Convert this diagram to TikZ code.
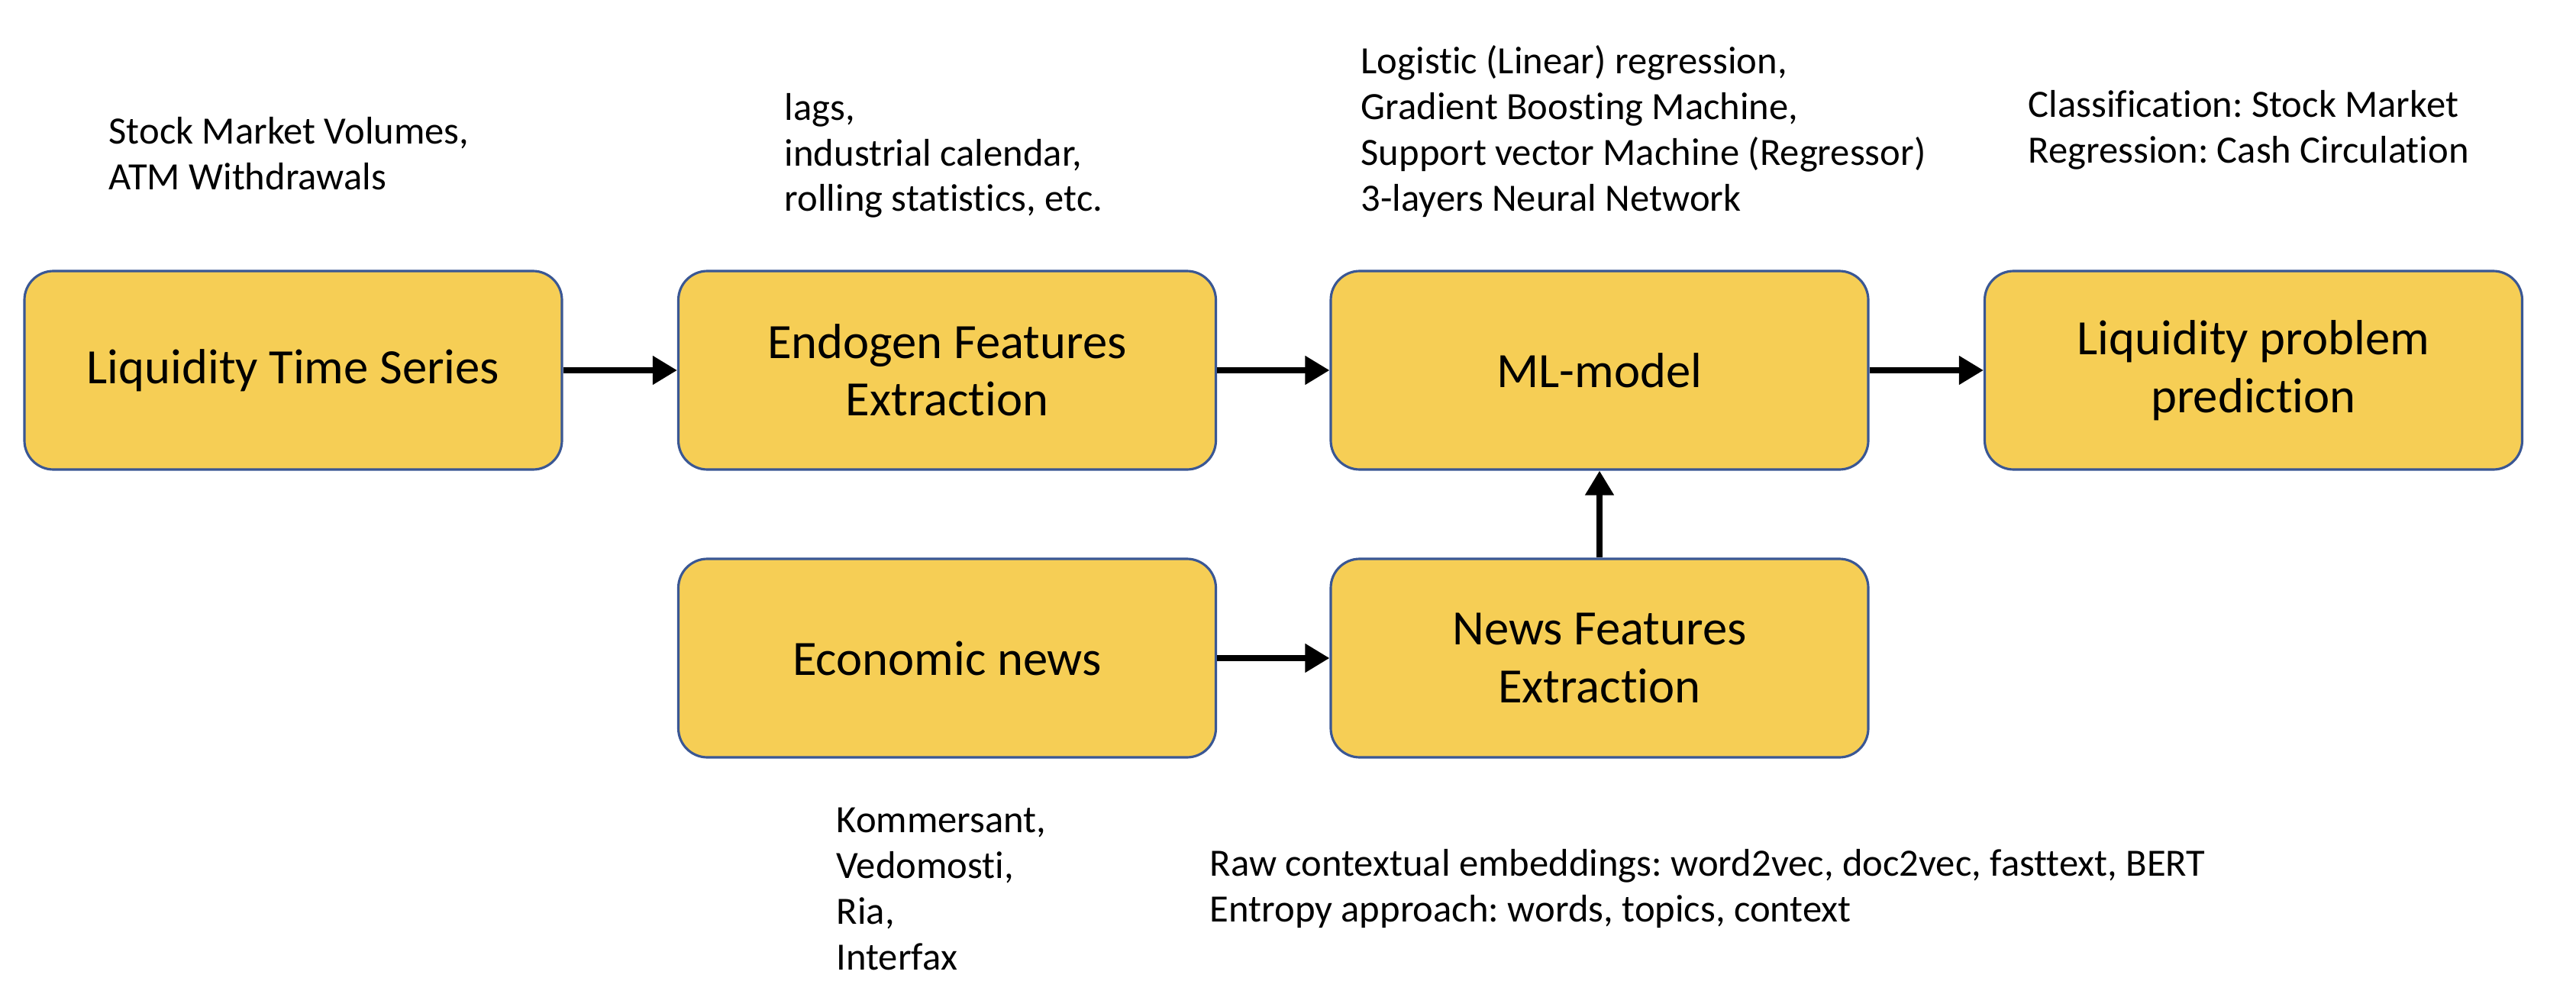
\documentclass[tikz,border=0pt]{standalone}
\usepackage{fontspec}
\setmainfont{Carlito}[Ligatures=NoCommon]
\usetikzlibrary{positioning, arrows.meta, shapes.geometric}

\definecolor{boxfill}{HTML}{F6CE55}
\definecolor{boxline}{HTML}{3A5794}
\frenchspacing

\begin{document}
\begin{tikzpicture}[
    stage/.style={
        rectangle,
        rounded corners=0.38cm,
        draw=boxline,
        fill=boxfill,
        minimum width=7.04cm,
        minimum height=2.6cm,
        line width=0.9pt,
        align=center,
        font=\fontsize{18.4}{21.5}\selectfont
    },
    note/.style={
        anchor=west,
        inner sep=0pt,
        align=left,
        font=\fontsize{14.4}{17}\selectfont
    },
    arrow/.style={-{Triangle[length=0.32cm, width=0.36cm]}, line width=2.2pt, draw=black}
]
\useasboundingbox (0,0) rectangle (33.74,13.18);

% Main pipeline
\node[stage] (liquidity) at (3.84,8.33) {Liquidity Time Series};
\node[stage] (endogen) at (12.405,8.33) {Endogen Features\\Extraction};
\node[stage] (mlmodel) at (20.95,8.33) {ML-model};
\node[stage] (prediction) at (29.515,8.33) {Liquidity problem\\prediction};

% News branch
\node[stage] (econnews) at (12.405,4.56) {Economic news};
\node[stage] (newsfeat) at (20.95,4.56) {News Features\\Extraction};

% Notes
\node[note] (datanote) at (1.42,11.17) {Stock Market Volumes,\\ATM Withdrawals};
\node[note] (featnote) at (10.27,11.14) {lags,\\industrial calendar,\\rolling statistics, etc.};
\node[note] (modelnote) at (17.82,11.46) {Logistic (Linear) regression,\\Gradient Boosting Machine,\\Support vector Machine (Regressor)\\3-layers Neural Network};
\node[note] (tasknote) at (26.56,11.48) {Classification: Stock Market\\Regression: Cash Circulation};
\node[note] (sourcenote) at (10.95,1.535) {Kommersant,\\Vedomosti,\\Ria,\\Interfax};
\node[note] (embednote) at (15.84,1.54) {Raw contextual embeddings: word2vec, doc2vec, fasttext, BERT\\Entropy approach: words, topics, context};

% Arrows
\draw[arrow] (liquidity) -- (endogen);
\draw[arrow] (endogen) -- (mlmodel);
\draw[arrow] (mlmodel) -- (prediction);
\draw[arrow] (econnews) -- (newsfeat);
\draw[arrow] (newsfeat) -- (mlmodel);

\end{tikzpicture}
\end{document}
